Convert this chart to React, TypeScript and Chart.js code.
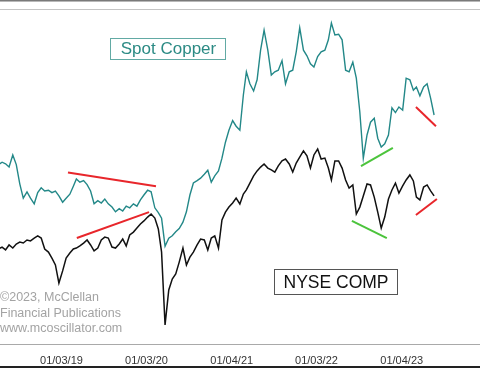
import React, { useEffect, useRef } from 'react';
import { Chart, registerables } from 'chart.js';

Chart.register(...registerables);

// half-monthly samples (8th and 23rd of each month)
const dates = [
  '2018-04-08','2018-04-23','2018-05-08','2018-05-23','2018-06-08','2018-06-23','2018-07-08','2018-07-23','2018-08-08','2018-08-23','2018-09-08','2018-09-23','2018-10-08','2018-10-23','2018-11-08','2018-11-23','2018-12-08','2018-12-23',
  '2019-01-08','2019-01-23','2019-02-08','2019-02-23','2019-03-08','2019-03-23','2019-04-08','2019-04-23','2019-05-08','2019-05-23','2019-06-08','2019-06-23','2019-07-08','2019-07-23','2019-08-08','2019-08-23','2019-09-08','2019-09-23','2019-10-08','2019-10-23','2019-11-08','2019-11-23','2019-12-08','2019-12-23',
  '2020-01-08','2020-01-23','2020-02-08','2020-02-23','2020-03-08','2020-03-23','2020-04-08','2020-04-23','2020-05-08','2020-05-23','2020-06-08','2020-06-23','2020-07-08','2020-07-23','2020-08-08','2020-08-23','2020-09-08','2020-09-23','2020-10-08','2020-10-23','2020-11-08','2020-11-23','2020-12-08','2020-12-23',
  '2021-01-08','2021-01-23','2021-02-08','2021-02-23','2021-03-08','2021-03-23','2021-04-08','2021-04-23','2021-05-08','2021-05-23','2021-06-08','2021-06-23','2021-07-08','2021-07-23','2021-08-08','2021-08-23','2021-09-08','2021-09-23','2021-10-08','2021-10-23','2021-11-08','2021-11-23','2021-12-08','2021-12-23',
  '2022-01-08','2022-01-23','2022-02-08','2022-02-23','2022-03-08','2022-03-23','2022-04-08','2022-04-23','2022-05-08','2022-05-23','2022-06-08','2022-06-23','2022-07-08','2022-07-23','2022-08-08','2022-08-23','2022-09-08','2022-09-23','2022-10-08','2022-10-23','2022-11-08','2022-11-23','2022-12-08','2022-12-23',
  '2023-01-08','2023-01-23','2023-02-08','2023-02-23','2023-03-08','2023-03-23','2023-04-08','2023-04-23','2023-05-08','2023-05-23',
];

// Spot copper, $/lb
const copper = [
  3.13, 3.16, 3.14, 3.10, 3.25, 3.13, 2.89, 2.71, 2.79, 2.71, 2.64, 2.78, 2.84, 2.80, 2.81, 2.78, 2.80, 2.74,
  2.66, 2.71, 2.76, 2.86, 2.95, 2.91, 2.93, 2.88, 2.80, 2.64, 2.68, 2.65, 2.70, 2.64, 2.60, 2.54, 2.58, 2.55, 2.61, 2.59, 2.64, 2.61, 2.69, 2.75,
  2.81, 2.79, 2.59, 2.53, 2.46, 2.11, 2.21, 2.24, 2.29, 2.33, 2.41, 2.54, 2.75, 2.90, 2.93, 2.96, 3.01, 3.06, 2.91, 2.99, 3.05, 3.21, 3.41, 3.56,
  3.68, 3.61, 3.56, 4.00, 4.29, 4.14, 4.05, 4.19, 4.56, 4.81, 4.56, 4.25, 4.29, 4.31, 4.43, 4.14, 4.29, 4.31, 4.54, 4.84, 4.56, 4.49, 4.39, 4.35,
  4.48, 4.54, 4.56, 4.69, 4.90, 4.75, 4.76, 4.69, 4.31, 4.29, 4.41, 4.21, 3.79, 3.21, 3.50, 3.66, 3.71, 3.46, 3.35, 3.39, 3.50, 3.84, 3.78, 3.85,
  3.81, 4.21, 4.19, 4.06, 4.10, 3.99, 4.10, 4.14, 3.96, 3.75,
];

// NYSE Composite
const nyse = [
  13100, 13180, 13060, 13270, 13140, 13310, 13390, 13350, 13480, 13440, 13560, 13650, 13560, 13100, 12970, 12720, 12430, 11670,
  12180, 12720, 12930, 13100, 13140, 13230, 13350, 13480, 13270, 13020, 13140, 13480, 13600, 13560, 13180, 13140, 13310, 13520, 13230, 13690, 13810, 13980, 14150, 14280,
  14440, 14570, 14400, 13940, 12970, 9910, 11380, 11840, 12050, 12550, 13140, 12430, 12760, 12970, 13270, 13520, 13480, 13060, 13560, 13650, 13140, 14320, 14650, 14860,
  15030, 15240, 14990, 15410, 15580, 15870, 16170, 16380, 16540, 16670, 16500, 16420, 16330, 16590, 16800, 16880, 16670, 16330, 16710, 16960, 17220, 17010, 16500, 17050,
  17300, 16880, 16920, 16500, 16000, 16800, 16800, 16500, 16000, 15660, 15790, 14570, 14860, 15330, 15830, 15790, 15280, 14650, 13980, 14440, 15200, 15580, 15870, 15450,
  15750, 16000, 16210, 15960, 15280, 15160, 15700, 15790, 15540, 15330,
];

const tickDates = ['2019-01-03', '2020-01-03', '2021-01-04', '2022-01-03', '2023-01-04'];
const tickLabels = ['01/03/19', '01/03/20', '01/04/21', '01/03/22', '01/04/23'];

// trend lines drawn on the chart
const trendAxis = ['yCopper', 'yNyse', 'yCopper', 'yNyse', 'yCopper', 'yNyse'];
const trendStart = ['2019-01-31', '2019-03-10', '2022-07-13', '2022-06-04', '2023-03-06', '2023-03-06'];
const trendEnd = ['2020-02-13', '2020-01-14', '2022-11-27', '2022-11-01', '2023-05-31', '2023-06-04'];
const trendStartValue = [3.03, 13560, 3.11, 14280, 3.85, 14530];
const trendEndValue = [2.86, 14650, 3.34, 13560, 3.61, 15200];
const trendColor = ['#e8262b', '#e8262b', '#4cc43c', '#4cc43c', '#e8262b', '#e8262b'];

const copyrightLines = ['\u00A92023, McClellan', 'Financial Publications', 'www.mcoscillator.com'];

function toYear(s: string): number {
  const d = Date.parse(s + 'T00:00:00Z');
  const y = new Date(d).getUTCFullYear();
  const start = Date.UTC(y, 0, 1);
  const len = Date.UTC(y + 1, 0, 1) - start;
  return y + (d - start) / len;
}

const FONT = '"Liberation Sans", Arial, sans-serif';

const decorPlugin = {
  id: 'decor',
  beforeDraw(chart: any) {
    const ctx = chart.ctx;
    ctx.save();
    ctx.fillStyle = '#ffffff';
    ctx.fillRect(0, 0, chart.width, chart.height);
    ctx.restore();
  },
  afterDraw(chart: any) {
    const ctx = chart.ctx;
    const w = chart.width;
    ctx.save();
    ctx.fillStyle = '#7a7a7a';
    ctx.fillRect(0, 0, w, 1);
    ctx.fillStyle = '#b8b8b8';
    ctx.fillRect(0, 1, w, 1);
    ctx.fillStyle = '#c4c4c4';
    ctx.fillRect(0, 9, w, 1);
    ctx.fillStyle = '#a9a9a9';
    ctx.fillRect(0, 344, w, 1);
    ctx.fillStyle = '#222222';
    ctx.fillRect(0, 366, w, 2);

    // Spot Copper label
    ctx.strokeStyle = '#62aaa4';
    ctx.lineWidth = 1;
    ctx.strokeRect(110.5, 38.5, 115, 21);
    ctx.fillStyle = '#2b8a84';
    ctx.font = '17px ' + FONT;
    ctx.textAlign = 'center';
    ctx.textBaseline = 'middle';
    ctx.fillText('Spot Copper', 168.5, 49.5);

    // NYSE COMP label
    ctx.strokeStyle = '#555555';
    ctx.strokeRect(274.5, 269.5, 123, 25);
    ctx.fillStyle = '#111111';
    ctx.font = '17.5px ' + FONT;
    ctx.fillText('NYSE COMP', 336, 283);

    // copyright
    ctx.fillStyle = '#a3a3a3';
    ctx.font = '12.5px ' + FONT;
    ctx.textAlign = 'left';
    copyrightLines.forEach((t, i) => ctx.fillText(t, 0, 298 + i * 15.5));
    ctx.restore();
  },
};

export default function App() {
  const ref = useRef<HTMLCanvasElement | null>(null);

  useEffect(() => {
    document.body.style.margin = '0';
    const xs = dates.map(toYear);
    const tickYears = tickDates.map(toYear);
    const trendSets = trendAxis.map((ax, i) => ({
      type: 'line' as const,
      data: [
        { x: toYear(trendStart[i]), y: trendStartValue[i] },
        { x: toYear(trendEnd[i]), y: trendEndValue[i] },
      ],
      yAxisID: ax,
      borderColor: trendColor[i],
      borderWidth: 2,
      pointRadius: 0,
      order: 0,
    }));
    const chart = new Chart(ref.current as HTMLCanvasElement, {
      type: 'line',
      data: {
        datasets: [
          {
            label: 'Spot Copper',
            data: xs.map((x, i) => ({ x, y: copper[i] })),
            yAxisID: 'yCopper',
            borderColor: '#238888',
            borderWidth: 1.4,
            pointRadius: 0,
            tension: 0,
            order: 2,
          },
          {
            label: 'NYSE COMP',
            data: xs.map((x, i) => ({ x, y: nyse[i] })),
            yAxisID: 'yNyse',
            borderColor: '#111111',
            borderWidth: 1.5,
            pointRadius: 0,
            tension: 0,
            order: 1,
          },
          ...trendSets,
        ] as any,
      },
      options: {
        animation: false,
        responsive: false,
        layout: { padding: { top: 9, left: 0, right: 0, bottom: 0 } },
        plugins: {
          legend: { display: false },
          tooltip: { enabled: false },
        },
        scales: {
          x: {
            type: 'linear',
            min: 2018.2824,
            max: 2023.929,
            grid: { display: false, drawTicks: false },
            border: { display: false },
            afterBuildTicks: (axis: any) => {
              axis.ticks = tickYears.map((v) => ({ value: v }));
            },
            afterFit: (axis: any) => {
              axis.height = 25;
            },
            ticks: {
              autoSkip: false,
              maxRotation: 0,
              padding: 10,
              color: '#333333',
              font: { family: FONT, size: 11 },
              callback: (_v: any, i: number) => tickLabels[i],
            },
          },
          yCopper: {
            type: 'linear',
            display: false,
            min: 0.8875,
            max: 5.075,
          },
          yNyse: {
            type: 'linear',
            display: false,
            min: 9110,
            max: 23180,
          },
        },
      } as any,
      plugins: [decorPlugin],
    });
    return () => chart.destroy();
  }, []);

  return (
    <div style={{ position: 'absolute', left: 0, top: 0, width: 480, height: 369 }}>
      <canvas ref={ref} width={480} height={369} style={{ width: 480, height: 369, display: 'block' }} />
    </div>
  );
}
